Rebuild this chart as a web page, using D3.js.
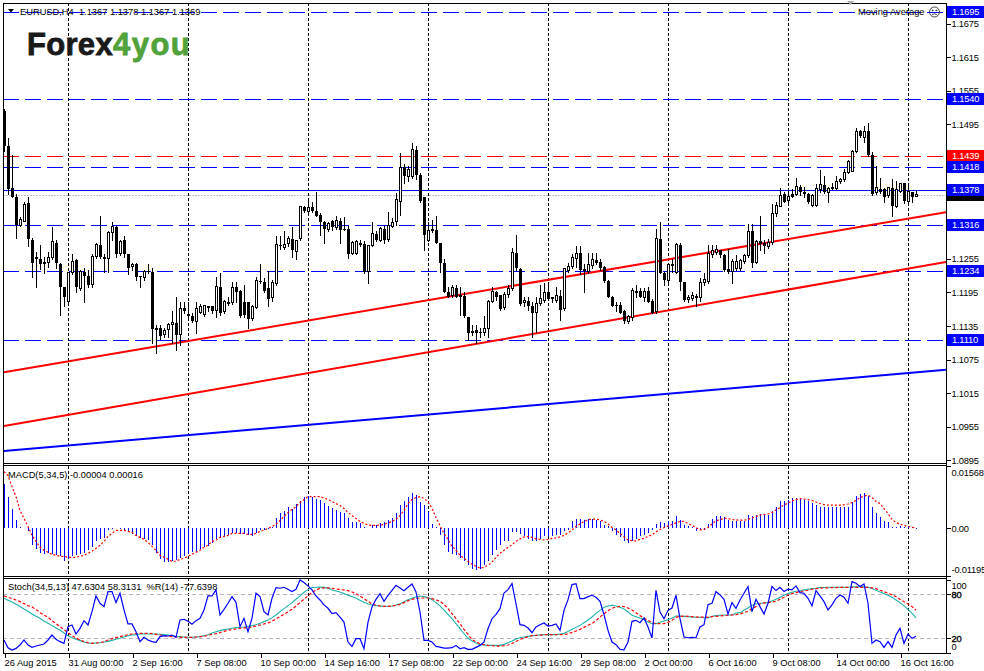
<!DOCTYPE html>
<html>
<head>
<meta charset="utf-8">
<script src="https://cdn.jsdelivr.net/npm/d3@7"></script>
<style>
  html, body { margin: 0; padding: 0; background: #fff; }
  svg { display: block; font-family: "Liberation Sans", Arial, sans-serif; }
</style>
</head>
<body>
<svg id="chart" width="984" height="671"></svg>
<script>
// EURUSD H4 bars, 26 Aug 2015 .. 16 Oct 2015
const openP = [
  1.1519, 1.1456, 1.1381, 1.1365, 1.1315, 1.1322, 1.1354, 1.1289, 1.1259, 1.1255,
  1.1250, 1.1248, 1.1257, 1.1284, 1.1246, 1.1205, 1.1178, 1.1230, 1.1252, 1.1202,
  1.1232, 1.1225, 1.1209, 1.1259, 1.1279, 1.1259, 1.1255, 1.1302, 1.1311, 1.1264,
  1.1288, 1.1264, 1.1241, 1.1245, 1.1225, 1.1221, 1.1234, 1.1232, 1.1132, 1.1132,
  1.1119, 1.1128, 1.1137, 1.1141, 1.1119, 1.1168, 1.1157, 1.1153, 1.1143, 1.1159,
  1.1155, 1.1170, 1.1170, 1.1162, 1.1205, 1.1161, 1.1178, 1.1177, 1.1204, 1.1198,
  1.1178, 1.1177, 1.1148, 1.1168, 1.1216, 1.1214, 1.1202, 1.1186, 1.1211, 1.1279,
  1.1275, 1.1282, 1.1291, 1.1268, 1.1291, 1.1347, 1.1340, 1.1347, 1.1340, 1.1334,
  1.1320, 1.1307, 1.1322, 1.1311, 1.1322, 1.1309, 1.1309, 1.1264, 1.1264, 1.1284,
  1.1282, 1.1232, 1.1279, 1.1300, 1.1288, 1.1309, 1.1289, 1.1313, 1.1322, 1.1357,
  1.1418, 1.1402, 1.1402, 1.1450, 1.1404, 1.1365, 1.1288, 1.1306, 1.1307, 1.1284,
  1.1248, 1.1196, 1.1189, 1.1202, 1.1191, 1.1189, 1.1152, 1.1127, 1.1128, 1.1125,
  1.1123, 1.1130, 1.1178, 1.1195, 1.1191, 1.1168, 1.1191, 1.1202, 1.1266, 1.1237,
  1.1177, 1.1180, 1.1171, 1.1159, 1.1175, 1.1180, 1.1196, 1.1186, 1.1180, 1.1189,
  1.1166, 1.1235, 1.1241, 1.1255, 1.1266, 1.1237, 1.1232, 1.1243, 1.1252, 1.1250,
  1.1241, 1.1216, 1.1187, 1.1173, 1.1173, 1.1161, 1.1143, 1.1150, 1.1196, 1.1198,
  1.1186, 1.1198, 1.1180, 1.1161, 1.1291, 1.1230, 1.1216, 1.1245, 1.1230, 1.1280,
  1.1214, 1.1182, 1.1184, 1.1186, 1.1186, 1.1212, 1.1214, 1.1263, 1.1266, 1.1270,
  1.1261, 1.1237, 1.1232, 1.1237, 1.1237, 1.1250, 1.1261, 1.1304, 1.1248, 1.1286,
  1.1284, 1.1277, 1.1284, 1.1336, 1.1349, 1.1370, 1.1359, 1.1370, 1.1370, 1.1384,
  1.1374, 1.1370, 1.1350, 1.1350, 1.1379, 1.1386, 1.1374, 1.1381, 1.1381, 1.1393,
  1.1397, 1.1409, 1.1411, 1.1447, 1.1483, 1.1472, 1.1483, 1.1441, 1.1374, 1.1379,
  1.1379, 1.1368, 1.1382, 1.1349, 1.1375, 1.1390, 1.1357, 1.1374, 1.1367
];
const highP = [
  1.1522, 1.1470, 1.1440, 1.1370, 1.1329, 1.1356, 1.1366, 1.1293, 1.1268, 1.1280,
  1.1259, 1.1268, 1.1311, 1.1288, 1.1248, 1.1205, 1.1232, 1.1264, 1.1255, 1.1235,
  1.1239, 1.1235, 1.1263, 1.1284, 1.1332, 1.1263, 1.1304, 1.1320, 1.1313, 1.1289,
  1.1295, 1.1264, 1.1248, 1.1248, 1.1225, 1.1235, 1.1245, 1.1238, 1.1137, 1.1137,
  1.1132, 1.1141, 1.1162, 1.1187, 1.1177, 1.1178, 1.1178, 1.1159, 1.1178, 1.1175,
  1.1173, 1.1171, 1.1170, 1.1223, 1.1230, 1.1182, 1.1187, 1.1214, 1.1214, 1.1200,
  1.1209, 1.1178, 1.1173, 1.1223, 1.1245, 1.1221, 1.1234, 1.1218, 1.1295, 1.1295,
  1.1304, 1.1295, 1.1311, 1.1289, 1.1350, 1.1350, 1.1359, 1.1356, 1.1374, 1.1336,
  1.1322, 1.1320, 1.1325, 1.1332, 1.1327, 1.1329, 1.1313, 1.1286, 1.1288, 1.1288,
  1.1286, 1.1280, 1.1320, 1.1304, 1.1311, 1.1313, 1.1338, 1.1327, 1.1372, 1.1443,
  1.1424, 1.1420, 1.1461, 1.1456, 1.1409, 1.1365, 1.1320, 1.1325, 1.1331, 1.1284,
  1.1254, 1.1204, 1.1209, 1.1209, 1.1205, 1.1195, 1.1152, 1.1137, 1.1137, 1.1132,
  1.1153, 1.1182, 1.1205, 1.1198, 1.1191, 1.1195, 1.1209, 1.1275, 1.1297, 1.1239,
  1.1187, 1.1186, 1.1177, 1.1186, 1.1209, 1.1212, 1.1214, 1.1187, 1.1205, 1.1200,
  1.1239, 1.1248, 1.1263, 1.1277, 1.1277, 1.1245, 1.1266, 1.1266, 1.1266, 1.1254,
  1.1243, 1.1218, 1.1189, 1.1177, 1.1177, 1.1164, 1.1155, 1.1202, 1.1209, 1.1202,
  1.1202, 1.1204, 1.1184, 1.1309, 1.1320, 1.1232, 1.1248, 1.1254, 1.1284, 1.1284,
  1.1214, 1.1191, 1.1196, 1.1193, 1.1220, 1.1230, 1.1279, 1.1280, 1.1279, 1.1271,
  1.1263, 1.1273, 1.1254, 1.1261, 1.1254, 1.1263, 1.1318, 1.1318, 1.1289, 1.1331,
  1.1288, 1.1291, 1.1352, 1.1356, 1.1381, 1.1374, 1.1379, 1.1379, 1.1399, 1.1386,
  1.1384, 1.1372, 1.1370, 1.1388, 1.1413, 1.1402, 1.1384, 1.1390, 1.1402, 1.1400,
  1.1416, 1.1432, 1.1449, 1.1488, 1.1485, 1.1492, 1.1497, 1.1445, 1.1420, 1.1399,
  1.1382, 1.1384, 1.1397, 1.1393, 1.1391, 1.1391, 1.1388, 1.1375, 1.1378
];
const lowP = [
  1.1447, 1.1370, 1.1365, 1.1293, 1.1313, 1.1322, 1.1277, 1.1223, 1.1204, 1.1236,
  1.1230, 1.1241, 1.1254, 1.1239, 1.1155, 1.1170, 1.1173, 1.1227, 1.1196, 1.1200,
  1.1178, 1.1205, 1.1205, 1.1257, 1.1257, 1.1232, 1.1232, 1.1289, 1.1259, 1.1261,
  1.1259, 1.1227, 1.1235, 1.1218, 1.1205, 1.1218, 1.1230, 1.1105, 1.1087, 1.1112,
  1.1116, 1.1116, 1.1105, 1.1093, 1.1101, 1.1159, 1.1152, 1.1143, 1.1123, 1.1159,
  1.1153, 1.1162, 1.1159, 1.1152, 1.1155, 1.1159, 1.1173, 1.1175, 1.1178, 1.1152,
  1.1152, 1.1132, 1.1146, 1.1168, 1.1212, 1.1196, 1.1171, 1.1180, 1.1209, 1.1272,
  1.1273, 1.1277, 1.1259, 1.1254, 1.1289, 1.1338, 1.1334, 1.1338, 1.1331, 1.1297,
  1.1284, 1.1304, 1.1307, 1.1309, 1.1284, 1.1307, 1.1257, 1.1263, 1.1263, 1.1277,
  1.1230, 1.1212, 1.1277, 1.1286, 1.1286, 1.1284, 1.1286, 1.1311, 1.1316, 1.1334,
  1.1391, 1.1393, 1.1400, 1.1397, 1.1357, 1.1270, 1.1286, 1.1302, 1.1284, 1.1232,
  1.1195, 1.1187, 1.1186, 1.1187, 1.1155, 1.1152, 1.1110, 1.1119, 1.1105, 1.1116,
  1.1119, 1.1116, 1.1177, 1.1182, 1.1164, 1.1166, 1.1187, 1.1200, 1.1235, 1.1173,
  1.1171, 1.1164, 1.1116, 1.1125, 1.1173, 1.1177, 1.1182, 1.1177, 1.1178, 1.1146,
  1.1164, 1.1232, 1.1239, 1.1241, 1.1227, 1.1195, 1.1230, 1.1239, 1.1245, 1.1235,
  1.1214, 1.1186, 1.1170, 1.1162, 1.1159, 1.1141, 1.1141, 1.1146, 1.1186, 1.1186,
  1.1180, 1.1177, 1.1159, 1.1159, 1.1230, 1.1209, 1.1214, 1.1232, 1.1230, 1.1200,
  1.1180, 1.1178, 1.1182, 1.1170, 1.1180, 1.1209, 1.1212, 1.1259, 1.1264, 1.1259,
  1.1234, 1.1230, 1.1212, 1.1235, 1.1235, 1.1248, 1.1259, 1.1241, 1.1248, 1.1271,
  1.1266, 1.1275, 1.1282, 1.1332, 1.1349, 1.1356, 1.1357, 1.1366, 1.1368, 1.1368,
  1.1366, 1.1354, 1.1349, 1.1349, 1.1375, 1.1372, 1.1356, 1.1379, 1.1379, 1.1391,
  1.1393, 1.1408, 1.1411, 1.1445, 1.1472, 1.1463, 1.1438, 1.1368, 1.1370, 1.1372,
  1.1357, 1.1366, 1.1332, 1.1347, 1.1374, 1.1354, 1.1356, 1.1356, 1.1367
];
const closeP = [
  1.1456, 1.1379, 1.1366, 1.1315, 1.1325, 1.1352, 1.1291, 1.1248, 1.1254, 1.1246,
  1.1246, 1.1257, 1.1286, 1.1248, 1.1205, 1.1187, 1.1230, 1.1250, 1.1205, 1.1232,
  1.1225, 1.1209, 1.1259, 1.1280, 1.1259, 1.1255, 1.1302, 1.1313, 1.1263, 1.1286,
  1.1263, 1.1239, 1.1245, 1.1223, 1.1223, 1.1232, 1.1232, 1.1130, 1.1128, 1.1118,
  1.1127, 1.1137, 1.1141, 1.1119, 1.1166, 1.1162, 1.1153, 1.1144, 1.1166, 1.1170,
  1.1171, 1.1168, 1.1162, 1.1205, 1.1159, 1.1178, 1.1175, 1.1204, 1.1196, 1.1153,
  1.1155, 1.1148, 1.1170, 1.1216, 1.1214, 1.1198, 1.1184, 1.1212, 1.1280, 1.1277,
  1.1280, 1.1291, 1.1270, 1.1288, 1.1349, 1.1341, 1.1347, 1.1340, 1.1332, 1.1320,
  1.1309, 1.1318, 1.1311, 1.1323, 1.1307, 1.1307, 1.1263, 1.1284, 1.1286, 1.1280,
  1.1232, 1.1279, 1.1300, 1.1289, 1.1309, 1.1288, 1.1315, 1.1320, 1.1361, 1.1418,
  1.1402, 1.1415, 1.1450, 1.1404, 1.1359, 1.1297, 1.1306, 1.1307, 1.1284, 1.1248,
  1.1195, 1.1187, 1.1204, 1.1187, 1.1186, 1.1153, 1.1123, 1.1123, 1.1123, 1.1123,
  1.1130, 1.1178, 1.1196, 1.1187, 1.1166, 1.1191, 1.1202, 1.1266, 1.1239, 1.1175,
  1.1180, 1.1171, 1.1159, 1.1175, 1.1184, 1.1195, 1.1184, 1.1184, 1.1189, 1.1164,
  1.1237, 1.1241, 1.1257, 1.1264, 1.1235, 1.1234, 1.1245, 1.1254, 1.1248, 1.1239,
  1.1216, 1.1187, 1.1171, 1.1170, 1.1159, 1.1144, 1.1152, 1.1198, 1.1197, 1.1187,
  1.1196, 1.1178, 1.1159, 1.1291, 1.1230, 1.1218, 1.1245, 1.1243, 1.1280, 1.1214,
  1.1182, 1.1186, 1.1189, 1.1187, 1.1212, 1.1218, 1.1264, 1.1270, 1.1271, 1.1261,
  1.1235, 1.1232, 1.1250, 1.1250, 1.1252, 1.1261, 1.1304, 1.1248, 1.1286, 1.1282,
  1.1277, 1.1284, 1.1336, 1.1350, 1.1368, 1.1357, 1.1366, 1.1366, 1.1384, 1.1374,
  1.1370, 1.1357, 1.1368, 1.1381, 1.1388, 1.1374, 1.1381, 1.1382, 1.1393, 1.1397,
  1.1409, 1.1429, 1.1447, 1.1483, 1.1474, 1.1483, 1.1441, 1.1370, 1.1382, 1.1375,
  1.1366, 1.1382, 1.1349, 1.1379, 1.1390, 1.1359, 1.1375, 1.1366, 1.1369
];

// MACD(5,34,5): histogram (main) and signal
const macdMain = [
  0.01125, 0.0080, 0.0050, 0.0020, 0.00025, 0.00012, -0.00075, -0.00425, -0.00525, -0.00625,
  -0.0065, -0.00625, -0.00638, -0.00663, -0.0070, -0.00825, -0.00775, -0.0070, -0.00675, -0.0065,
  -0.00625, -0.0055, -0.00475, -0.00325, -0.00275, -0.0025, -0.0005, -0.00002, 0.00012, -0.00025,
  -0.0005, -0.00075, -0.0014, -0.0019, -0.0025, -0.00275, -0.0030, -0.00425, -0.00625, -0.00775,
  -0.0085, -0.0085, -0.00825, -0.0080, -0.0075, -0.0070, -0.0065, -0.0060, -0.0060, -0.00525,
  -0.00475, -0.0045, -0.00375, -0.00275, -0.00225, -0.0020, -0.00175, -0.00125, -0.00125, -0.0014,
  -0.0014, -0.00175, -0.0020, -0.00125, -0.0005, -0.00038, -0.00025, 0.00038, 0.0025, 0.00375,
  0.0045, 0.0055, 0.0050, 0.00625, 0.0070, 0.0080, 0.00825, 0.0080, 0.0075, 0.00713,
  0.00638, 0.00563, 0.00525, 0.00475, 0.00425, 0.00375, 0.0025, 0.0015, 0.0015, 0.00125,
  0.00025, 0.00003, 0.00075, 0.00075, 0.00125, 0.0015, 0.0020, 0.0025, 0.00375, 0.0060,
  0.0070, 0.0080, 0.0090, 0.0085, 0.00675, 0.0060, 0.00425, 0.0010, 0.00025, -0.00175,
  -0.00425, -0.0060, -0.0065, -0.00675, -0.0075, -0.00825, -0.00925, -0.01025, -0.0105, -0.01025,
  -0.00925, -0.00825, -0.00675, -0.0055, -0.00425, -0.00325, -0.00325, -0.0010, -0.0010, -0.0015,
  -0.0020, -0.00275, -0.00325, -0.00325, -0.00275, -0.0020, -0.00225, -0.0020, -0.00175, -0.00175,
  -0.00075, -0.0005, 0.00175, 0.00225, 0.00225, 0.0020, 0.00225, 0.00225, 0.0020, 0.00175,
  0.00075, 0.0005, -0.00075, -0.00175, -0.00225, -0.00325, -0.00375, -0.00325, -0.00275, -0.0020,
  -0.00175, -0.00125, -0.0005, 0.0010, 0.0015, 0.00125, 0.00175, 0.00175, 0.0030, 0.0020,
  0.00075, 0.0005, 0.00025, -0.00075, -0.0005, -0.00038, 0.0010, 0.00225, 0.0030, 0.0030,
  0.00275, 0.0020, 0.00175, 0.00175, 0.00175, 0.00175, 0.00325, 0.0030, 0.00325, 0.0035,
  0.00325, 0.00325, 0.0045, 0.0055, 0.0070, 0.0070, 0.00725, 0.00775, 0.00775, 0.0075,
  0.00725, 0.0070, 0.0065, 0.0060, 0.0055, 0.0055, 0.0055, 0.0055, 0.0055, 0.0055,
  0.0055, 0.0055, 0.00675, 0.00825, 0.00875, 0.0090, 0.00825, 0.0055, 0.0040, 0.00275,
  0.00175, 0.0015, 0.00025, 0.00025, 0.0005, 0.00025, 0.0005, 0.00025, -0.00004
];
const macdSignal = [
  0.01425, 0.01325, 0.0105, 0.0080, 0.0045, 0.0025, 0.0005, -0.00175, -0.00325, -0.00475,
  -0.0055, -0.0060, -0.0065, -0.00675, -0.0070, -0.0070, -0.00725, -0.00725, -0.00725, -0.0070,
  -0.00675, -0.00625, -0.00575, -0.0050, -0.00425, -0.00325, -0.0020, -0.00125, -0.0005, -0.0005,
  -0.0005, -0.00075, -0.0010, -0.00175, -0.00225, -0.00275, -0.0035, -0.0045, -0.0055, -0.00675,
  -0.00725, -0.00775, -0.00825, -0.00825, -0.00775, -0.0075, -0.0070, -0.0065, -0.0060, -0.0055,
  -0.00475, -0.00425, -0.00325, -0.0030, -0.00225, -0.0020, -0.00175, -0.00125, -0.00125, -0.00125,
  -0.00125, -0.0015, -0.0015, -0.00125, -0.00075, -0.0005, 0.0000, 0.0005, 0.0010, 0.0020,
  0.0030, 0.0040, 0.00475, 0.0055, 0.0065, 0.00725, 0.0080, 0.0080, 0.0080, 0.0080,
  0.00763, 0.00725, 0.00675, 0.00625, 0.00575, 0.0050, 0.0040, 0.00325, 0.0025, 0.00175,
  0.00125, 0.00088, 0.00075, 0.00075, 0.00085, 0.0010, 0.00138, 0.00175, 0.00225, 0.00325,
  0.0045, 0.00625, 0.00725, 0.00775, 0.0080, 0.0075, 0.00675, 0.0050, 0.00275, 0.00075,
  -0.00125, -0.00275, -0.0045, -0.0055, -0.00675, -0.0075, -0.00825, -0.0090, -0.0095, -0.0100,
  -0.00975, -0.00925, -0.0085, -0.00725, -0.00625, -0.0055, -0.00475, -0.00413, -0.00325, -0.00263,
  -0.00213, -0.00208, -0.00225, -0.00263, -0.00275, -0.0029, -0.00275, -0.0025, -0.00238, -0.00213,
  -0.00175, -0.00113, -0.00038, 0.0005, 0.00113, 0.00175, 0.00213, 0.00235, 0.00235, 0.00213,
  0.0018, 0.00113, 0.00025, -0.0004, -0.00125, -0.00213, -0.00288, -0.00308, -0.00313, -0.00275,
  -0.0025, -0.0020, -0.00163, -0.00088, -0.00025, 0.00018, 0.00063, 0.0010, 0.00138, 0.00175,
  0.00175, 0.00125, 0.00075, 0.00025, -0.00038, -0.00025, 0.00025, 0.00113, 0.00188, 0.00225,
  0.0025, 0.0025, 0.00225, 0.00213, 0.00208, 0.00208, 0.00225, 0.00263, 0.0030, 0.00333,
  0.0035, 0.00363, 0.0040, 0.00463, 0.00525, 0.00588, 0.0064, 0.00688, 0.00725, 0.0075,
  0.00738, 0.00725, 0.0070, 0.00663, 0.00625, 0.0060, 0.00583, 0.00583, 0.00583, 0.00583,
  0.00595, 0.00613, 0.0065, 0.0070, 0.00775, 0.00813, 0.00833, 0.00775, 0.00675, 0.00625,
  0.0050, 0.00375, 0.00225, 0.0015, 0.00108, 0.00075, 0.0005, 0.00025, 0.00016
];

// Stoch(34,5,13) main / signal and %R(14)
const stochMain = [
  74.5, 71.8, 69.5, 66.3, 63.1, 59.9, 56.7, 53.0, 49.8, 47.0,
  43.4, 40.2, 37.0, 33.8, 31.0, 26.9, 23.2, 20.5, 18.2, 16.4,
  14.5, 13.2, 12.7, 13.2, 13.6, 14.5, 15.4, 16.8, 18.2, 19.6,
  21.4, 23.2, 24.1, 24.6, 25.5, 25.5, 25.5, 25.5, 25.5, 25.1,
  24.6, 24.1, 23.2, 22.3, 21.9, 21.4, 21.0, 21.0, 21.4, 21.9,
  23.2, 24.6, 26.9, 28.7, 30.1, 31.5, 32.4, 33.3, 34.2, 34.7,
  35.1, 36.1, 37.0, 38.3, 40.2, 42.5, 44.8, 48.0, 51.6, 56.2,
  60.3, 64.5, 68.6, 73.2, 77.7, 82.8, 86.4, 89.2, 89.6, 89.8,
  89.5, 88.5, 85.9, 84.6, 83.2, 80.9, 78.6, 76.8, 74.5, 71.7,
  69.0, 66.7, 65.3, 64.4, 64.0, 63.5, 63.5, 64.0, 65.3, 67.1,
  69.9, 72.6, 74.5, 76.3, 77.7, 76.8, 75.4, 72.6, 68.5, 64.0,
  58.4, 52.5, 46.5, 39.7, 32.8, 25.9, 20.0, 15.9, 13.1, 10.8,
  10.4, 9.9, 9.9, 9.9, 9.9, 11.3, 13.6, 15.9, 18.6, 20.4,
  21.4, 22.3, 23.2, 23.6, 24.1, 24.6, 24.6, 24.6, 24.6, 25.5,
  26.4, 29.1, 31.9, 34.6, 37.4, 41.0, 44.7, 48.8, 53.9, 58.0,
  62.1, 64.0, 64.9, 64.0, 62.1, 59.8, 55.7, 51.1, 49.3, 47.5,
  45.2, 41.9, 39.7, 39.7, 41.5, 43.3, 45.2, 47.5, 50.2, 50.2,
  49.7, 49.3, 48.8, 48.4, 48.4, 47.9, 47.5, 49.8, 50.7, 51.2,
  51.6, 51.6, 51.6, 54.4, 54.8, 58.0, 61.2, 64.9, 66.7, 67.7,
  68.1, 68.6, 70.9, 73.2, 75.9, 78.7, 80.9, 82.8, 84.1, 84.6,
  86.0, 86.9, 87.8, 88.3, 89.2, 89.2, 89.6, 89.6, 89.6, 89.6,
  89.6, 89.6, 90.1, 90.1, 90.6, 90.1, 89.6, 87.8, 85.5, 83.2,
  80.9, 78.7, 75.9, 72.2, 68.6, 64.0, 59.4, 53.9, 47.63
];
const stochSignal = [
  77.7, 75.9, 74.1, 72.2, 69.9, 67.2, 64.5, 62.6, 59.4, 54.8,
  51.6, 48.4, 43.8, 39.7, 35.6, 31.5, 27.4, 23.2, 20.0, 17.3,
  15.0, 13.6, 12.7, 13.2, 13.6, 15.0, 17.3, 19.1, 20.5, 21.9,
  23.2, 24.6, 25.5, 26.0, 26.4, 26.4, 26.4, 26.0, 25.1, 24.1,
  23.2, 22.3, 21.9, 21.4, 21.0, 21.0, 21.0, 21.0, 21.4, 21.9,
  22.3, 23.7, 25.1, 26.0, 27.4, 29.2, 30.6, 31.5, 32.4, 33.3,
  33.8, 34.2, 35.1, 36.5, 37.9, 39.3, 40.6, 42.9, 46.1, 49.3,
  52.5, 55.8, 59.4, 64.0, 68.6, 73.2, 77.7, 82.8, 85.5, 88.3,
  88.7, 88.9, 88.2, 87.3, 86.8, 85.9, 85.0, 83.2, 80.9, 77.7,
  74.0, 70.4, 66.7, 64.9, 63.9, 63.5, 63.5, 63.9, 64.9, 66.2,
  68.5, 71.3, 73.1, 74.5, 74.9, 74.9, 74.9, 74.0, 72.2, 70.4,
  66.2, 60.3, 53.4, 46.5, 39.7, 31.9, 25.0, 18.1, 14.5, 12.2,
  10.8, 9.9, 9.4, 9.0, 9.0, 9.4, 10.4, 12.5, 15.3, 18.1,
  20.0, 21.8, 23.2, 23.6, 24.1, 24.6, 24.6, 24.6, 24.6, 24.6,
  24.6, 25.9, 27.8, 29.6, 31.9, 34.6, 37.4, 40.1, 43.8, 48.8,
  53.4, 57.5, 60.7, 62.6, 63.5, 63.0, 61.2, 58.4, 54.8, 50.7,
  47.5, 44.3, 41.0, 39.7, 39.7, 39.7, 41.5, 44.3, 48.4, 49.7,
  50.2, 49.7, 49.3, 48.8, 48.8, 48.8, 48.4, 49.3, 49.8, 50.3,
  50.7, 51.2, 51.6, 52.1, 53.0, 54.8, 56.7, 60.3, 63.1, 66.7,
  68.1, 68.6, 69.5, 70.4, 73.2, 75.9, 79.1, 80.9, 82.3, 83.7,
  84.6, 85.5, 86.9, 87.8, 88.3, 88.7, 88.7, 89.2, 89.2, 89.6,
  89.6, 89.6, 89.6, 89.6, 89.6, 89.6, 89.6, 88.7, 87.8, 85.5,
  83.7, 81.4, 79.1, 76.8, 73.2, 69.9, 66.7, 63.1, 58.31
];
const wpr = [
  -82.7, -93.3, -96.5, -94.2, -89.6, -82.7, -89.6, -92.8, -91.0, -89.6,
  -88.2, -82.7, -75.9, -81.8, -85.0, -87.3, -64.4, -62.1, -74.5, -66.7,
  -56.2, -62.1, -43.8, -22.3, -32.3, -36.9, -16.3, -16.3, -31.4, -18.6,
  -41.5, -60.7, -60.7, -71.3, -85.0, -79.0, -82.7, -85.0, -85.9, -78.1,
  -76.8, -77.2, -75.9, -79.0, -55.2, -54.3, -57.1, -61.2, -56.2, -53.0,
  -41.5, -22.3, -22.3, -14.0, -48.4, -40.6, -32.3, -23.2, -31.0, -64.4,
  -53.0, -71.3, -53.0, -18.6, -23.2, -43.8, -48.4, -25.5, -10.8, -11.7,
  -10.4, -13.1, -16.3, -13.1, -0.3, -3.9, -8.5, -14.0, -22.3, -27.8,
  -34.6, -39.2, -46.6, -45.2, -51.2, -58.1, -85.5, -91.5, -80.9, -80.9,
  -94.7, -58.1, -37.4, -26.9, -19.1, -29.6, -21.4, -14.5, -7.7, -11.3,
  -15.0, -10.4, -5.8, -16.8, -44.3, -83.2, -83.2, -85.5, -91.5, -92.4,
  -93.8, -93.8, -93.3, -90.1, -94.7, -93.3, -95.6, -95.6, -92.8, -90.1,
  -85.5, -67.2, -53.5, -47.5, -39.7, -18.2, -13.6, -5.4, -33.0, -61.7,
  -62.6, -66.3, -72.7, -64.9, -61.7, -59.4, -63.5, -62.6, -60.8, -69.5,
  -42.0, -27.4, -6.7, -5.4, -26.0, -26.0, -23.2, -21.4, -24.1, -29.6,
  -48.0, -69.5, -85.5, -89.2, -95.6, -96.1, -85.5, -57.1, -55.7, -59.0,
  -52.5, -64.9, -80.0, -14.5, -44.3, -53.5, -42.0, -38.8, -21.4, -53.5,
  -78.6, -79.6, -79.1, -79.6, -64.9, -61.7, -34.2, -32.3, -16.3, -20.9,
  -26.8, -47.0, -31.4, -39.2, -27.8, -18.6, -9.4, -43.8, -26.8, -36.9,
  -47.0, -32.3, -9.4, -14.9, -10.4, -16.3, -13.1, -14.0, -8.5, -17.7,
  -18.6, -25.5, -36.0, -14.9, -22.3, -30.1, -41.5, -34.6, -25.5, -20.9,
  -24.1, -32.3, -2.6, -4.9, -9.4, -5.8, -32.3, -87.3, -82.7, -85.0,
  -92.8, -85.0, -92.8, -75.9, -66.7, -87.3, -74.5, -80.4, -77.64
];

// axes / objects
const priceTicks = [1.0895, 1.0955, 1.1015, 1.1075, 1.1135, 1.1195, 1.1255,
  1.1315, 1.1375, 1.1435, 1.1495, 1.1555, 1.1615, 1.1675];
const macdTicks = [0.01568, 0, -0.01195];
const stochTicks = [100, 80, 20, 0];
const timeTickBars = [0, 16, 32, 48, 64, 80, 96, 112, 128, 144, 160, 176, 192, 208, 224];
const timeTickLabels = ["26 Aug 2015", "31 Aug 00:00", "2 Sep 16:00", "7 Sep 08:00",
  "10 Sep 00:00", "14 Sep 16:00", "17 Sep 08:00", "22 Sep 00:00", "24 Sep 16:00",
  "29 Sep 08:00", "2 Oct 00:00", "6 Oct 16:00", "9 Oct 08:00", "14 Oct 00:00", "16 Oct 16:00"];
const gridBars = [16, 46, 76, 106, 136, 166, 196, 226];
const levelPrices = [1.1695, 1.1540, 1.1439, 1.1418, 1.1316, 1.1234, 1.1110, 1.1378];
const levelColors = ["#0000ff", "#0000ff", "#ff0000", "#0000ff", "#0000ff", "#0000ff", "#0000ff", "#0000ff"];
const levelSolid = [false, false, false, false, false, false, false, true];
const bidPrice = 1.1369;
// trend lines: [bar, price] anchors, extended to the right edge
const trendLines = [
  { a: [0, 1.10524], b: [228, 1.13291], color: "#ff0000" },
  { a: [0, 1.09565], b: [228, 1.12398], color: "#ff0000" },
  { a: [0, 1.09119], b: [228, 1.10522], color: "#0000ff" }
];

const svg = d3.select("#chart");
const fontSize = 9.3;
const left = 3, right = 946;
const mainTop = 3, mainBottom = 463;
const macdTop = 466, macdBottom = 576;
const stochTop = 578, stochBottom = 653;
const lastBar = 235.5;

const x = d3.scaleLinear().domain([0, lastBar]).range([4, right]);
const y = d3.scaleLinear().domain([1.08905, 1.17116]).range([mainBottom, mainTop]);
const yM = d3.scaleLinear().domain([-0.01195, 0.01568]).range([macdBottom, macdTop]);
const yS = d3.scaleLinear().domain([0, 100]).range([652.6, 579.7]);
const yR = d3.scaleLinear().domain([-100, 0]).range([652.6, 579.7]);

const bars = closeP.map((c, i) => ({ i, o: openP[i], h: highP[i], l: lowP[i], c }));

// clip paths for the three windows
const defs = svg.append("defs");
[["clipMain", mainTop, mainBottom], ["clipMacd", macdTop, macdBottom], ["clipStoch", stochTop, stochBottom]]
  .forEach(([id, t, b]) => {
    defs.append("clipPath").attr("id", id)
      .append("rect").attr("x", left).attr("y", t).attr("width", right - left).attr("height", b - t);
  });

// vertical dotted grid in all windows
const grid = svg.append("g").attr("shape-rendering", "crispEdges");
[[mainTop, mainBottom], [macdTop, macdBottom], [stochTop, stochBottom]].forEach(([t, b]) => {
  grid.selectAll(null).data(gridBars).join("line")
    .attr("x1", d => x(d) + 0.5).attr("x2", d => x(d) + 0.5)
    .attr("y1", t).attr("y2", b)
    .attr("stroke", "#000").attr("stroke-dasharray", "3,2");
});

// main window: horizontal levels, bid line, trend lines
const gMain = svg.append("g").attr("clip-path", "url(#clipMain)");
gMain.selectAll("line.level").data(levelPrices).join("line")
  .attr("class", "level")
  .attr("x1", left).attr("x2", right)
  .attr("y1", d => Math.round(y(d)) + 0.5).attr("y2", d => Math.round(y(d)) + 0.5)
  .attr("stroke", (d, i) => levelColors[i])
  .attr("stroke-dasharray", (d, i) => levelSolid[i] ? null : "16,6")
  .attr("shape-rendering", "crispEdges");

gMain.append("line")
  .attr("x1", left).attr("x2", right)
  .attr("y1", Math.round(y(bidPrice)) + 0.5).attr("y2", Math.round(y(bidPrice)) + 0.5)
  .attr("stroke", "#c8bcbc").attr("stroke-dasharray", "2,1")
  .attr("shape-rendering", "crispEdges");

gMain.selectAll("line.trend").data(trendLines).join("line")
  .attr("class", "trend")
  .attr("x1", d => x(d.a[0])).attr("y1", d => y(d.a[1]))
  .attr("x2", x(lastBar))
  .attr("y2", d => y(d.a[1] + (d.b[1] - d.a[1]) / (d.b[0] - d.a[0]) * (lastBar - d.a[0])))
  .attr("stroke", d => d.color).attr("stroke-width", 2);

// candles
const gC = gMain.append("g").attr("shape-rendering", "crispEdges");
gC.selectAll("line.wick").data(bars).join("line")
  .attr("class", "wick")
  .attr("x1", d => x(d.i) + 0.5).attr("x2", d => x(d.i) + 0.5)
  .attr("y1", d => y(d.h)).attr("y2", d => y(d.l) + 1)
  .attr("stroke", "#000");
gC.selectAll("rect.body").data(bars).join("rect")
  .attr("class", "body")
  .attr("x", d => d.c >= d.o ? x(d.i) - 0.5 : x(d.i) - 1)
  .attr("width", d => d.c >= d.o ? 2 : 3)
  .attr("y", d => y(Math.max(d.o, d.c)))
  .attr("height", d => Math.max(1, Math.abs(y(d.o) - y(d.c))))
  .attr("fill", d => d.c >= d.o ? "#fff" : "#000")
  .attr("stroke", d => d.c >= d.o ? "#000" : "none");

// MACD window
const gMacd = svg.append("g").attr("clip-path", "url(#clipMacd)");
gMacd.selectAll("line.hist").data(macdMain).join("line")
  .attr("x1", (d, i) => x(i) + 0.5).attr("x2", (d, i) => x(i) + 0.5)
  .attr("y1", yM(0)).attr("y2", d => yM(d))
  .attr("stroke", "#0000ff").attr("shape-rendering", "crispEdges");
gMacd.append("path")
  .datum(macdSignal)
  .attr("d", d3.line().x((d, i) => x(i)).y(d => yM(d)))
  .attr("fill", "none").attr("stroke", "#ff0000").attr("stroke-width", 1.2)
  .attr("stroke-dasharray", "2,2");

// Stochastic window
const gSt = svg.append("g").attr("clip-path", "url(#clipStoch)");
gSt.selectAll("line.lvl").data([80, 20]).join("line")
  .attr("x1", left).attr("x2", right)
  .attr("y1", d => Math.round(yS(d)) + 0.5).attr("y2", d => Math.round(yS(d)) + 0.5)
  .attr("stroke", "#bfb0c6").attr("stroke-dasharray", "4,3")
  .attr("shape-rendering", "crispEdges");
gSt.append("path").datum(stochMain)
  .attr("d", d3.line().x((d, i) => x(i)).y(d => yS(d)))
  .attr("fill", "none").attr("stroke", "#20b2aa").attr("stroke-width", 1.1);
gSt.append("path").datum(stochSignal)
  .attr("d", d3.line().x((d, i) => x(i)).y(d => yS(d)))
  .attr("fill", "none").attr("stroke", "#ff0000").attr("stroke-width", 1.2)
  .attr("stroke-dasharray", "3,2");
gSt.append("path").datum(wpr)
  .attr("d", d3.line().x((d, i) => x(i)).y(d => yR(d)))
  .attr("fill", "none").attr("stroke", "#0000ff").attr("stroke-width", 1.2);

// window frames
const frame = svg.append("g").attr("stroke", "#000").attr("shape-rendering", "crispEdges");
[mainTop, mainBottom, macdTop - 1, macdBottom, stochTop, stochBottom].forEach(v => {
  frame.append("line").attr("x1", left).attr("x2", right + 1).attr("y1", v + 0.5).attr("y2", v + 0.5);
});
frame.append("line").attr("x1", left + 0.5).attr("x2", left + 0.5).attr("y1", mainTop).attr("y2", stochBottom + 1);
frame.append("line").attr("x1", right + 0.5).attr("x2", right + 0.5).attr("y1", mainTop).attr("y2", stochBottom + 1);

function styleAxis(g) {
  g.attr("font-size", fontSize).attr("font-family", '"Liberation Sans", Arial, sans-serif');
  g.select(".domain").remove();
  g.selectAll(".tick line").attr("stroke", "#000").attr("shape-rendering", "crispEdges");
  g.selectAll(".tick text").attr("fill", "#000").attr("letter-spacing", -0.2);
}

// price axis (tick labels hidden behind a level label are left out, as in the terminal)
const labelPrices = levelPrices.concat([bidPrice]);
const visibleTicks = priceTicks.filter(t => !labelPrices.some(p => Math.abs(y(p) - y(t)) < 8));
svg.append("g").attr("transform", `translate(${right + 0.5},0)`)
  .call(d3.axisRight(y).tickValues(priceTicks).tickFormat(d3.format(".4f"))
    .tickSize(4).tickSizeOuter(0).tickPadding(1))
  .call(styleAxis)
  .call(g => g.selectAll(".tick text").filter(d => !visibleTicks.includes(d)).remove());

// MACD axis
svg.append("g").attr("transform", `translate(${right + 0.5},0)`)
  .call(d3.axisRight(yM).tickValues(macdTicks)
    .tickFormat(d => d === 0 ? "0.00" : d.toFixed(5))
    .tickSize(4).tickSizeOuter(0).tickPadding(1))
  .call(styleAxis)
  .call(g => g.selectAll(".tick text")
    .attr("dy", d => d === macdTicks[0] ? "1.05em" : d === macdTicks[2] ? "-0.4em" : "0.32em"));

// Stochastic axis
svg.append("g").attr("transform", `translate(${right + 0.5},0)`)
  .call(d3.axisRight(yS).tickValues(stochTicks).tickFormat(d3.format("d"))
    .tickSize(4).tickSizeOuter(0).tickPadding(1))
  .call(styleAxis)
  .call(g => g.selectAll(".tick text")
    .attr("dy", d => d === 100 ? "1.0em" : d === 0 ? "-0.3em" : "0.32em")
    .attr("stroke", d => d === 80 || d === 20 ? "#000" : null)
    .attr("stroke-width", 0.35));

// time axis
svg.append("g").attr("transform", `translate(0,${stochBottom + 0.5})`)
  .call(d3.axisBottom(x).tickValues(timeTickBars).tickFormat((d, i) => timeTickLabels[i])
    .tickSize(4).tickSizeOuter(0).tickPadding(2))
  .call(styleAxis)
  .call(g => g.selectAll(".tick line").attr("transform", "translate(0.5,0)"))
  .call(g => g.selectAll(".tick text").attr("text-anchor", "start").attr("letter-spacing", null));

// price level labels on the axis
const labels = svg.append("g").attr("font-size", fontSize).attr("letter-spacing", -0.2);
const labelData = [{ p: bidPrice, color: "#000" }]
  .concat(levelPrices.map((p, i) => ({ p, color: levelColors[i] })));
labelData.forEach(d => {
  const cy = Math.round(y(d.p));
  labels.append("rect").attr("x", right + 1).attr("y", cy - 6)
    .attr("width", 984 - right - 1).attr("height", 12).attr("fill", d.color);
  // the bid label sits under the 1.1378 one: only its lower edge shows
  if (d.p === bidPrice) return;
  labels.append("text").attr("x", right + 6).attr("y", cy).attr("dy", "0.35em")
    .attr("fill", "#fff").text(d.p.toFixed(4));
});

// window captions
const cap = svg.append("g").attr("font-size", fontSize).attr("fill", "#000");
cap.append("path").attr("d", "M8,9 L14,9 L11,12.5 Z").attr("fill", "#000");
cap.append("text").attr("x", 20).attr("y", 12).attr("dy", "0.35em").attr("xml:space", "preserve")
  .text("EURUSD,H4  1.1367 1.1378 1.1367 1.1369");
cap.append("text").attr("x", 8).attr("y", 475).attr("dy", "0.35em")
  .text("MACD(5,34,5) -0.00004 0.00016");
cap.append("text").attr("x", 8).attr("y", 587).attr("dy", "0.35em").attr("xml:space", "preserve")
  .text("Stoch(34,5,13) 47.6304 58.3131  %R(14) -77.6398");

// expert label top right
cap.append("path").attr("d", "M847,1 L854,1 L850.5,5 Z").attr("fill", "#aaa");
cap.append("text").attr("x", 858).attr("y", 12).attr("dy", "0.35em").text("Moving Average");
const face = cap.append("g").attr("transform", "translate(934.5,12)")
  .attr("fill", "none").attr("stroke", "#333").attr("stroke-width", 0.9);
face.append("circle").attr("r", 5);
face.append("circle").attr("cx", -1.8).attr("cy", -1.5).attr("r", 0.5).attr("fill", "#333");
face.append("circle").attr("cx", 1.8).attr("cy", -1.5).attr("r", 0.5).attr("fill", "#333");
face.append("path").attr("d", "M-2.5,2.8 Q0,0.6 2.5,2.8");

// logo
const logo = svg.append("text").attr("x", 27).attr("y", 55)
  .attr("font-family", '"Liberation Sans", Arial, sans-serif')
  .attr("font-weight", "bold").attr("font-size", 31).attr("letter-spacing", 0.3)
  .attr("stroke-width", 0.8);
logo.append("tspan").attr("fill", "#1a1a1a").attr("stroke", "#1a1a1a").text("Forex");
logo.append("tspan").attr("fill", "#52a23b").attr("stroke", "#52a23b").attr("letter-spacing", 1.5).text("4you");
</script>
</body>
</html>
